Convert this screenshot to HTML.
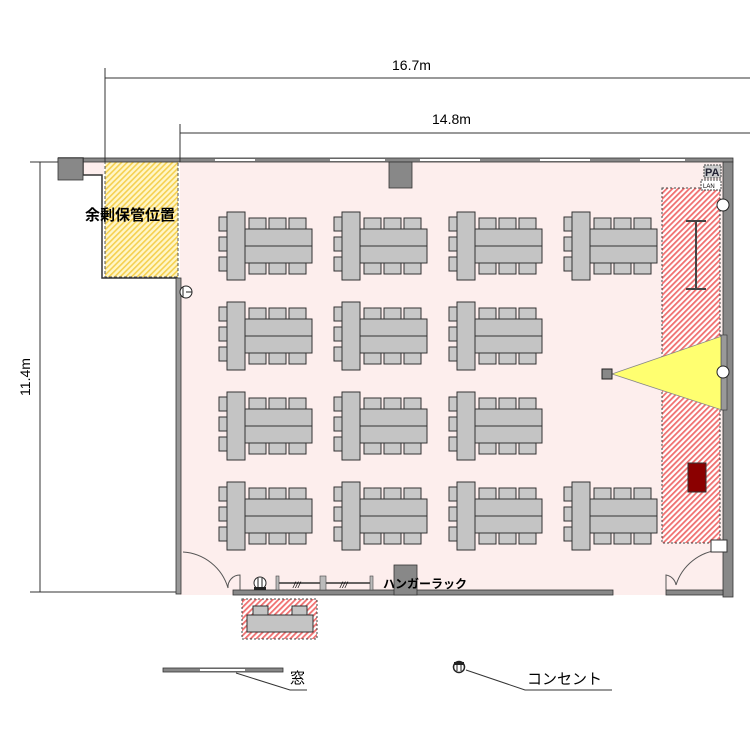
<!DOCTYPE html>
<html><head><meta charset="utf-8"><style>
html,body{margin:0;padding:0;background:#fff}
svg{display:block}
text{font-family:"Liberation Sans","Noto Sans CJK JP",sans-serif}
</style></head><body>
<svg width="750" height="750" viewBox="0 0 750 750" xmlns="http://www.w3.org/2000/svg">
<defs>
<pattern id="red" width="4" height="4" patternUnits="userSpaceOnUse" patternTransform="rotate(45)">
<rect width="4" height="4" fill="#fff"/><rect width="1.8" height="4" fill="#f07070"/></pattern>
<pattern id="yel" width="4" height="4" patternUnits="userSpaceOnUse" patternTransform="rotate(45)">
<rect width="4" height="4" fill="#fff6c8"/><rect width="1.6" height="4" fill="#f5d050"/></pattern>
<g id="grp">
<rect x="9" y="7" width="8" height="14" fill="#c8c8c8" stroke="#333" stroke-width="1"/>
<rect x="9" y="27" width="8" height="14" fill="#c8c8c8" stroke="#333" stroke-width="1"/>
<rect x="9" y="47" width="8" height="14" fill="#c8c8c8" stroke="#333" stroke-width="1"/>
<rect x="39" y="8" width="17" height="11" fill="#c8c8c8" stroke="#333" stroke-width="1"/>
<rect x="59" y="8" width="17" height="11" fill="#c8c8c8" stroke="#333" stroke-width="1"/>
<rect x="79" y="8" width="17" height="11" fill="#c8c8c8" stroke="#333" stroke-width="1"/>
<rect x="39" y="53" width="17" height="11" fill="#c8c8c8" stroke="#333" stroke-width="1"/>
<rect x="59" y="53" width="17" height="11" fill="#c8c8c8" stroke="#333" stroke-width="1"/>
<rect x="79" y="53" width="17" height="11" fill="#c8c8c8" stroke="#333" stroke-width="1"/>
<rect x="35" y="19" width="67" height="17" fill="#c4c4c4" stroke="#333" stroke-width="1"/>
<rect x="35" y="36" width="67" height="17" fill="#c4c4c4" stroke="#333" stroke-width="1"/>
<rect x="17" y="2" width="18" height="68" fill="#c4c4c4" stroke="#333" stroke-width="1"/>
</g>
</defs>
<rect x="180" y="162" width="545" height="433" fill="#fdeeed"/>
<rect x="105" y="161" width="73" height="116" fill="url(#yel)" stroke="#555" stroke-dasharray="3,2"/>
<rect x="82" y="161" width="22" height="14" fill="#fdeeed"/>
<rect x="58" y="158" width="675" height="4" fill="#888" stroke="#333" stroke-width="0.8"/>
<rect x="215" y="159" width="40" height="2" fill="#fff"/><rect x="330" y="159" width="55" height="2" fill="#fff"/><rect x="420" y="159" width="60" height="2" fill="#fff"/><rect x="540" y="159" width="50" height="2" fill="#fff"/><rect x="640" y="159" width="45" height="2" fill="#fff"/>
<path d="M58 158 H83 V175 H102 V278 H178" fill="none" stroke="#333" stroke-width="1.5"/>
<rect x="58" y="158" width="25" height="22" fill="#888" stroke="#333" stroke-width="0.8"/>
<rect x="176" y="278" width="5" height="316" fill="#999" stroke="#333" stroke-width="0.8"/>
<rect x="389" y="162" width="23" height="26" fill="#888" stroke="#333" stroke-width="0.8"/>
<rect x="723" y="162" width="10" height="435" fill="#888" stroke="#333" stroke-width="0.8"/>
<rect x="233" y="590" width="380" height="5" fill="#888" stroke="#333" stroke-width="0.8"/>
<rect x="666" y="590" width="57" height="5" fill="#888" stroke="#333" stroke-width="0.8"/>
<path d="M183 552 A50 50 0 0 1 228 588 M228 588 A12 12 0 0 1 240 575 L240 590" fill="none" stroke="#555"/>
<path d="M666 590 V575 A12 12 0 0 1 676 585 M676 585 A50 50 0 0 1 720 550" fill="none" stroke="#555"/>
<line x1="278" y1="583" x2="372" y2="583" stroke="#333" stroke-width="1.5"/>
<rect x="276" y="576" width="3" height="14" fill="#bbb" stroke="#444" stroke-width="0.6"/>
<rect x="320" y="576" width="6" height="14" fill="#bbb" stroke="#444" stroke-width="0.6"/>
<rect x="370" y="576" width="3" height="14" fill="#bbb" stroke="#444" stroke-width="0.6"/>
<text x="293" y="588" font-size="9" font-style="italic">///</text><text x="340" y="588" font-size="9" font-style="italic">///</text>
<rect x="394" y="565" width="23" height="30" fill="#888" stroke="#333" stroke-width="0.8"/>
<text x="383" y="588" font-size="12" font-weight="bold">ハンガーラック</text>
<circle cx="260" cy="583" r="6" fill="#fff" stroke="#222"/><line x1="258" y1="578" x2="258" y2="588" stroke="#222"/><line x1="262" y1="578" x2="262" y2="588" stroke="#222"/><rect x="254" y="587" width="12" height="3" fill="#222"/>
<rect x="242" y="599" width="75" height="40" fill="url(#red)" stroke="#444" stroke-dasharray="2,2"/>
<rect x="253" y="606" width="15" height="9" fill="#c4c4c4" stroke="#333"/><rect x="292" y="606" width="15" height="9" fill="#c4c4c4" stroke="#333"/>
<rect x="247" y="615" width="66" height="17" fill="#c4c4c4" stroke="#333"/>
<rect x="662" y="188" width="58" height="355" fill="url(#red)" stroke="#444" stroke-dasharray="2,2"/>
<path d="M686 221 H706 M696 221 V289 M686 289 H706" stroke="#444" stroke-width="2"/>
<polygon points="612,374 722,336 722,410" fill="#ffff70" stroke="#888" stroke-width="0.8"/>
<rect x="602" y="369" width="10" height="10" fill="#888" stroke="#222"/>
<rect x="721" y="335" width="6" height="75" fill="#999" stroke="#333" stroke-width="0.6"/>
<rect x="688" y="463" width="18" height="29" fill="#8b0000" stroke="#333"/>
<circle cx="723" cy="372" r="6" fill="#fff" stroke="#222"/>
<circle cx="723" cy="205" r="6" fill="#fff" stroke="#222"/>
<rect x="704" y="165" width="17" height="13" fill="#ccc" stroke="#444" stroke-dasharray="2,1"/>
<text x="705" y="176" font-size="11" font-weight="bold" fill="#223">PA</text>
<rect x="701" y="180" width="20" height="10" fill="#fff" stroke="#444" stroke-dasharray="2,1"/>
<text x="703" y="188" font-size="6">LAN</text>
<rect x="711" y="540" width="16" height="12" fill="#fff" stroke="#333"/>
<circle cx="186" cy="292" r="6" fill="#fff" stroke="#222"/><line x1="183" y1="287" x2="183" y2="297" stroke="#222"/><line x1="186" y1="292" x2="192" y2="292" stroke="#222"/>
<use href="#grp" x="210" y="210"/><use href="#grp" x="325" y="210"/><use href="#grp" x="440" y="210"/><use href="#grp" x="555" y="210"/>
<use href="#grp" x="210" y="300"/><use href="#grp" x="325" y="300"/><use href="#grp" x="440" y="300"/>
<use href="#grp" x="210" y="390"/><use href="#grp" x="325" y="390"/><use href="#grp" x="440" y="390"/>
<use href="#grp" x="210" y="480"/><use href="#grp" x="325" y="480"/><use href="#grp" x="440" y="480"/><use href="#grp" x="555" y="480"/>
<text x="85" y="220" font-size="15" font-weight="bold">余剰保管位置</text>
<g stroke="#333" stroke-width="1" fill="none">
<line x1="105" y1="68" x2="105" y2="162"/><line x1="105" y1="78" x2="750" y2="78"/>
<line x1="180" y1="124" x2="180" y2="162"/><line x1="180" y1="133" x2="750" y2="133"/>
<line x1="30" y1="162" x2="58" y2="162"/><line x1="40" y1="162" x2="40" y2="592"/><line x1="30" y1="592" x2="176" y2="592"/>
</g>
<text x="392" y="70" font-size="14">16.7m</text>
<text x="432" y="124" font-size="14">14.8m</text>
<text transform="translate(30,377) rotate(-90)" font-size="14" text-anchor="middle">11.4m</text>
<rect x="163" y="668" width="120" height="4" fill="#888" stroke="#333" stroke-width="0.8"/><rect x="200" y="669" width="45" height="2" fill="#fff"/>
<path d="M236 673 L290 690 H307" fill="none" stroke="#333"/>
<text x="290" y="683" font-size="15">窓</text>
<circle cx="459" cy="667" r="5.5" fill="#fff" stroke="#222" stroke-width="1.5"/><line x1="457" y1="663" x2="457" y2="671" stroke="#222"/><line x1="461" y1="663" x2="461" y2="671" stroke="#222"/><rect x="454" y="662" width="10" height="3" fill="#222"/>
<path d="M466 670 L525 690 H612" fill="none" stroke="#333"/>
<text x="527" y="684" font-size="15">コンセント</text>
</svg>
</body></html>
